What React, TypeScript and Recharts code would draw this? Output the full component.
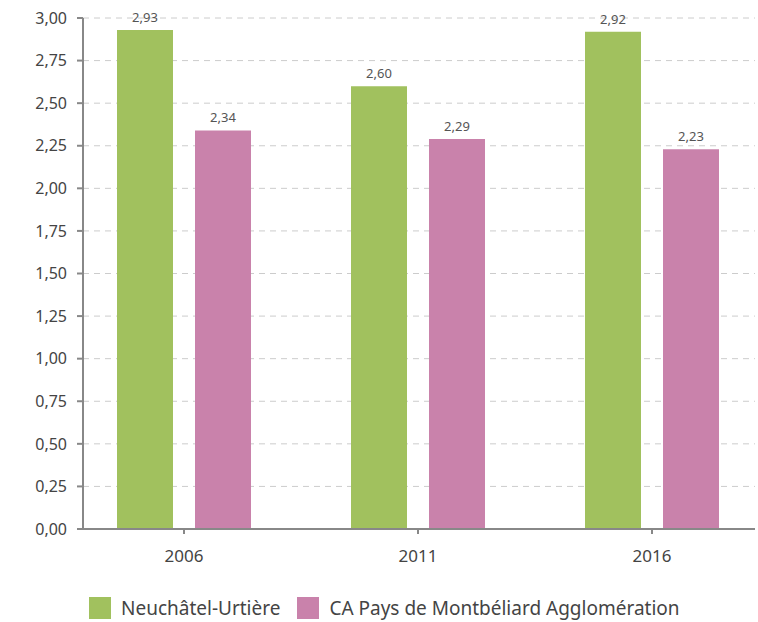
import React from 'react';
import { BarChart, Bar, XAxis, YAxis, CartesianGrid, Legend, LabelList } from 'recharts';

const years = ['2006', '2011', '2016'];
const neuchatel = [2.93, 2.6, 2.92];
const montbeliard = [2.34, 2.29, 2.23];
const yTicks = [0, 0.25, 0.5, 0.75, 1, 1.25, 1.5, 1.75, 2, 2.25, 2.5, 2.75, 3];

const GREEN = '#A1C15E';
const PINK = '#C982AB';
const FONT = '"Noto Sans", sans-serif';

const data = years.map((y, i) => ({ year: y, neuchatel: neuchatel[i], montbeliard: montbeliard[i] }));

const fmt = (v: number) => v.toFixed(2).replace('.', ',');

const LegendBox = () => (
  <div style={{ display: 'flex', alignItems: 'center', height: 30, paddingLeft: 89, fontFamily: FONT, fontSize: 19, color: '#444' }}>
    <span style={{ width: 22, height: 22, background: GREEN, marginRight: 10 }} />
    <span style={{ marginRight: 17 }}>Neuchâtel-Urtière</span>
    <span style={{ width: 22, height: 22, background: PINK, marginRight: 10 }} />
    <span>CA Pays de Montbéliard Agglomération</span>
  </div>
);

export default function App() {
  return (
    <div style={{ position: 'absolute', left: 0, top: 0, background: '#fff' }}>
      <BarChart
        width={758}
        height={622}
        data={data}
        margin={{ top: 18, right: 3, left: 0, bottom: 23 }}
        barGap={22}
        barSize={56}
        style={{ fontFamily: FONT }}
      >
        <CartesianGrid vertical={false} stroke="#cccccc" strokeDasharray="6 5" />
        <XAxis
          dataKey="year"
          padding={{ left: -16, right: -14 }}
          height={40}
          axisLine={{ stroke: '#888', strokeWidth: 2 }}
          tickLine={{ stroke: '#888', strokeWidth: 2 }}
          tickSize={5}
          tickMargin={16}
          tick={{ fill: '#444', fontSize: 17 }}
        />
        <YAxis
          width={83}
          domain={[0, 3]}
          ticks={yTicks}
          interval={0}
          tickFormatter={fmt}
          axisLine={{ stroke: '#888', strokeWidth: 2 }}
          tickLine={{ stroke: '#888', strokeWidth: 2 }}
          tickSize={6}
          tickMargin={10}
          tick={{ fill: '#444', fontSize: 16 }}
        />
        <Legend verticalAlign="bottom" content={<LegendBox />} wrapperStyle={{ top: 593, left: 0, width: 758, height: 30 }} />
        <Bar dataKey="neuchatel" fill={GREEN} isAnimationActive={false}>
          <LabelList dataKey="neuchatel" position="top" offset={8} formatter={(v: any) => fmt(Number(v))} style={{ fill: '#555', fontSize: 13 }} />
        </Bar>
        <Bar dataKey="montbeliard" fill={PINK} isAnimationActive={false}>
          <LabelList dataKey="montbeliard" position="top" offset={8} formatter={(v: any) => fmt(Number(v))} style={{ fill: '#555', fontSize: 13 }} />
        </Bar>
      </BarChart>
    </div>
  );
}
